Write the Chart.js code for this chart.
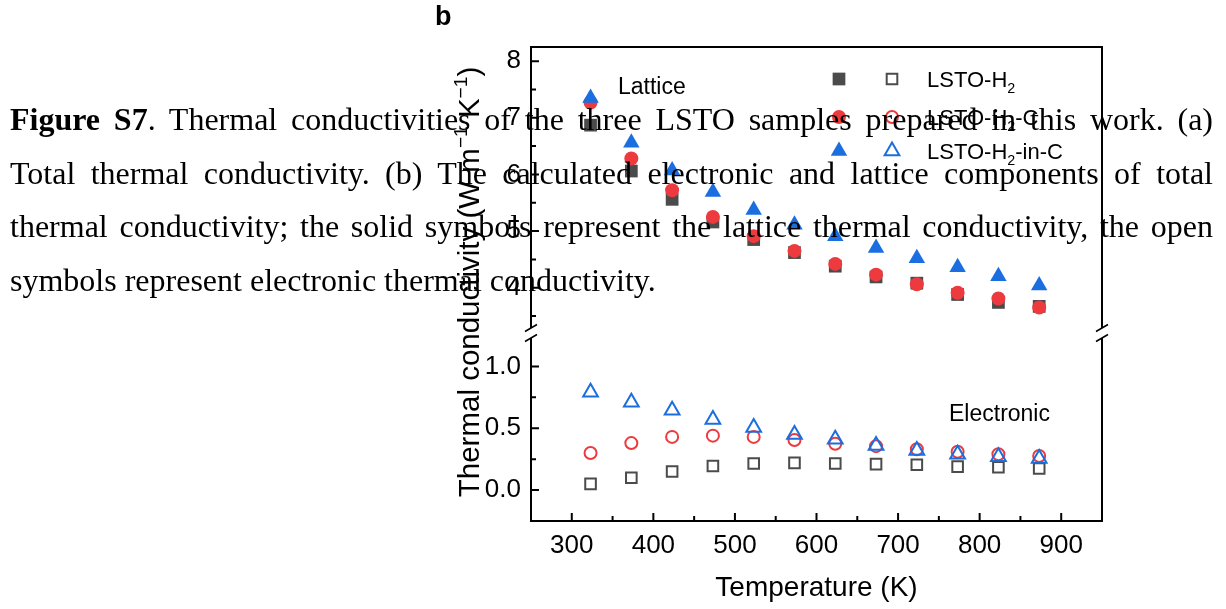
<!DOCTYPE html>
<html>
<head>
<meta charset="utf-8">
<title>Thermal conductivity of LSTO samples</title>
<script src="https://cdn.jsdelivr.net/npm/chart.js@4.4.1/dist/chart.umd.min.js"></script>
<style>
  html, body { margin: 0; padding: 0; background: #fff; }
  #wrap { position: relative; width: 1226px; height: 609px; overflow: hidden; }
  #chart { position: absolute; left: 0; top: 0; }
  #panel { position: absolute; left: 435px; top: 1px; font: bold 27px "Liberation Sans", Arial, sans-serif; color: #000; }
  #caption {
    position: absolute; left: 10px; top: 93px; width: 1203px;
    font-family: "Liberation Serif", "Times New Roman", serif;
    font-size: 32px; line-height: 53.5px; color: #000;
  }
  #caption .j { text-align: justify; text-align-last: justify; }
</style>
</head>
<body>
<div id="wrap">
  <canvas id="chart" width="1226" height="609"></canvas>
  <div id="panel">b</div>
  <div id="caption">
    <div class="j"><b>Figure S7</b>. Thermal conductivities of the three LSTO samples prepared in this work. (a)</div>
    <div class="j">Total thermal conductivity. (b) The calculated electronic and lattice components of total</div>
    <div class="j">thermal conductivity; the solid symbols represent the lattice thermal conductivity, the open</div>
    <div>symbols represent electronic thermal conductivity.</div>
  </div>
</div>
<script>
// Temperatures (K)
const temps = [323, 373, 423, 473, 523, 573, 623, 673, 723, 773, 823, 873];

// Lattice thermal conductivity (W m-1 K-1), solid symbols
const latticeH2    = [6.87, 6.06, 5.56, 5.16, 4.85, 4.62, 4.38, 4.19, 4.08, 3.88, 3.74, 3.67];
const latticeH2C   = [7.27, 6.28, 5.72, 5.25, 4.91, 4.65, 4.42, 4.23, 4.06, 3.91, 3.81, 3.65];
const latticeH2inC = [7.35, 6.56, 6.07, 5.69, 5.37, 5.11, 4.91, 4.70, 4.52, 4.36, 4.20, 4.04];

// Electronic thermal conductivity, open symbols
const electronicH2    = [0.05, 0.10, 0.15, 0.195, 0.215, 0.22, 0.215, 0.21, 0.205, 0.19, 0.185, 0.175];
const electronicH2C   = [0.30, 0.38, 0.43, 0.44, 0.43, 0.405, 0.375, 0.355, 0.33, 0.31, 0.29, 0.275];
const electronicH2inC = [0.79, 0.71, 0.645, 0.57, 0.505, 0.45, 0.41, 0.36, 0.32, 0.29, 0.27, 0.255];

// Axis ticks
const xTicks = [300, 400, 500, 600, 700, 800, 900];
const xMinor = [350, 450, 550, 650, 750, 850];
const yTopTicks = [4, 5, 6, 7, 8];
const yTopMinor = [3.5, 4.5, 5.5, 6.5, 7.5];
const yBotTicks = [0, 0.5, 1.0];
const yBotMinor = [0.25, 0.75];

const FONT = '"Liberation Sans", Arial, Helvetica, sans-serif';
const GRAY = '#4b4b4b';
const RED = '#ec3a3e';
const BLUE = '#1a6ee0';

Chart.defaults.font.family = FONT;
Chart.defaults.color = '#000';

const pts = arr => temps.map((t, i) => ({ x: t, y: arr[i] }));

// first dataset is drawn on top, so blue goes first
const datasets = [
    { label: 'LSTO-H2-in-C lattice', data: pts(latticeH2inC), yAxisID: 'yTop',
      pointStyle: 'triangle', pointRadius: 9.5, pointBackgroundColor: BLUE, pointBorderWidth: 0 },
    { label: 'LSTO-H2-C lattice', data: pts(latticeH2C), yAxisID: 'yTop',
      pointStyle: 'circle', pointRadius: 7, pointBackgroundColor: RED, pointBorderWidth: 0 },
    { label: 'LSTO-H2 lattice', data: pts(latticeH2), yAxisID: 'yTop',
      pointStyle: 'rect', pointRadius: 9, pointBackgroundColor: GRAY, pointBorderWidth: 0 },
    { label: 'LSTO-H2-in-C electronic', data: pts(electronicH2inC), yAxisID: 'yBot',
      pointStyle: 'triangle', pointRadius: 8.5, pointBackgroundColor: 'rgba(0,0,0,0)', pointBorderColor: BLUE, pointBorderWidth: 2 },
    { label: 'LSTO-H2-C electronic', data: pts(electronicH2C), yAxisID: 'yBot',
      pointStyle: 'circle', pointRadius: 6, pointBackgroundColor: 'rgba(0,0,0,0)', pointBorderColor: RED, pointBorderWidth: 2 },
    { label: 'LSTO-H2 electronic', data: pts(electronicH2), yAxisID: 'yBot',
      pointStyle: 'rect', pointRadius: 7.5, pointBackgroundColor: 'rgba(0,0,0,0)', pointBorderColor: GRAY, pointBorderWidth: 2 }
];

// legend rows: [solid dataset, open dataset, label parts]
const legendRows = [
    [2, 5, [['LSTO-H', ''], ['2', 'sub']]],
    [1, 4, [['LSTO-H', ''], ['2', 'sub'], ['-C', '']]],
    [0, 3, [['LSTO-H', ''], ['2', 'sub'], ['-in-C', '']]]
];

// draw text made of normal / sub / sup pieces, returns width
function drawParts(ctx, parts, x, y, size, measureOnly) {
    let cx = x;
    parts.forEach(([t, k]) => {
        const fs = k ? size * 0.65 : size;
        ctx.font = fs + 'px ' + FONT;
        const dy = k === 'sub' ? size * 0.25 : (k === 'sup' ? -size * 0.42 : 0);
        if (!measureOnly) ctx.fillText(t, cx, y + dy);
        cx += ctx.measureText(t).width;
    });
    return cx - x;
}

function breakMark(ctx, x, y) {
    ctx.save();
    ctx.fillStyle = '#fff';
    ctx.beginPath();
    ctx.moveTo(x - 6, y - 1.5); ctx.lineTo(x + 6, y - 8.5);
    ctx.lineTo(x + 6, y + 1.5); ctx.lineTo(x - 6, y + 8.5);
    ctx.closePath();
    ctx.fill();
    ctx.strokeStyle = '#000';
    ctx.lineWidth = 1.5;
    ctx.beginPath();
    ctx.moveTo(x - 6, y - 1.5); ctx.lineTo(x + 6, y - 8.5);
    ctx.moveTo(x - 6, y + 8.5); ctx.lineTo(x + 6, y + 1.5);
    ctx.stroke();
    ctx.restore();
}

const decor = {
    id: 'decor',
    afterDraw(chart) {
        const { ctx, chartArea: a, scales } = chart;
        ctx.save();
        ctx.strokeStyle = '#000';
        ctx.lineWidth = 2;
        ctx.strokeRect(a.left, a.top, a.right - a.left, a.bottom - a.top);

        // inward ticks
        ctx.beginPath();
        const xt = (v, len) => { const x = scales.x.getPixelForValue(v); ctx.moveTo(x, a.bottom); ctx.lineTo(x, a.bottom - len); };
        const yt = (s, v, len) => { const y = s.getPixelForValue(v); ctx.moveTo(a.left, y); ctx.lineTo(a.left + len, y); };
        xTicks.forEach(v => xt(v, 8));
        xMinor.forEach(v => xt(v, 5));
        yTopTicks.forEach(v => yt(scales.yTop, v, 8));
        yTopMinor.forEach(v => yt(scales.yTop, v, 5));
        yBotTicks.forEach(v => yt(scales.yBot, v, 8));
        yBotMinor.forEach(v => yt(scales.yBot, v, 5));
        ctx.stroke();

        // axis break between the two segments
        const yb = (scales.yTop.bottom + scales.yBot.top) / 2;
        breakMark(ctx, a.left, yb);
        breakMark(ctx, a.right, yb);

        ctx.fillStyle = '#000';
        ctx.textBaseline = 'alphabetic';
        ctx.textAlign = 'left';

        // labels inside the plot
        ctx.font = '23px ' + FONT;
        ctx.fillText('Lattice', 618, 94);
        ctx.fillText('Electronic', 949, 421);

        // legend
        legendRows.forEach(([solid, open, parts], i) => {
            const y = [79, 117, 151][i];
            [[solid, 839], [open, 892]].forEach(([di, x]) => {
                const d = datasets[di];
                ctx.fillStyle = d.pointBackgroundColor;
                ctx.strokeStyle = d.pointBorderColor || d.pointBackgroundColor;
                Chart.helpers.drawPoint(ctx, {
                    pointStyle: d.pointStyle, radius: d.pointRadius,
                    borderWidth: d.pointBorderWidth, rotation: 0
                }, x, y);
            });
            ctx.fillStyle = '#000';
            drawParts(ctx, parts, 927, y + 8, 22);
        });

        // y axis title, rotated
        const yTitle = [['Thermal conductivity (W m', ''], ['\u22121', 'sup'], [' K', ''], ['\u22121', 'sup'], [')', '']];
        const fs = 29.5;
        const w = drawParts(ctx, yTitle, 0, 0, fs, true);
        ctx.save();
        ctx.translate(479, 282);
        ctx.rotate(-Math.PI / 2);
        ctx.fillStyle = '#000';
        drawParts(ctx, yTitle, -w / 2, 0, fs);
        ctx.restore();

        ctx.restore();
    }
};

new Chart(document.getElementById('chart'), {
    type: 'scatter',
    data: { datasets: datasets },
    options: {
        responsive: false,
        animation: false,
        devicePixelRatio: 1,
        layout: { padding: { top: 47, right: 124, left: 0, bottom: 0 } },
        plugins: { legend: { display: false }, tooltip: { enabled: false } },
        scales: {
            x: {
                type: 'linear', axis: 'x', position: 'bottom', min: 250, max: 950,
                grid: { display: false, drawTicks: false }, border: { display: false },
                afterBuildTicks: s => { s.ticks = xTicks.map(v => ({ value: v })); },
                afterFit: s => { s.height = 88; },
                ticks: { font: { size: 26 }, color: '#000', padding: 9, maxRotation: 0, autoSkip: false },
                title: { display: true, text: 'Temperature (K)', font: { size: 28 }, color: '#000', padding: { top: 0, bottom: 4 } }
            },
            // in a stack the later scale sits higher, so the lower segment comes first
            yBot: {
                type: 'linear', axis: 'y', position: 'left', stack: 'y', stackWeight: 188,
                min: -0.25, max: 1.27,
                grid: { display: false, drawTicks: false }, border: { display: false },
                afterBuildTicks: s => { s.ticks = yBotTicks.map(v => ({ value: v })); },
                afterFit: s => { s.width = 531; },
                ticks: { font: { size: 26 }, color: '#000', padding: 10, callback: v => v.toFixed(1) }
            },
            yTop: {
                type: 'linear', axis: 'y', position: 'left', stack: 'y', stackWeight: 286,
                min: 3.2, max: 8.25,
                grid: { display: false, drawTicks: false }, border: { display: false },
                afterBuildTicks: s => { s.ticks = yTopTicks.map(v => ({ value: v })); },
                afterFit: s => { s.width = 531; },
                ticks: { font: { size: 26 }, color: '#000', padding: 10, callback: v => v.toFixed(0) }
            }
        }
    },
    plugins: [decor]
});
</script>
</body>
</html>
